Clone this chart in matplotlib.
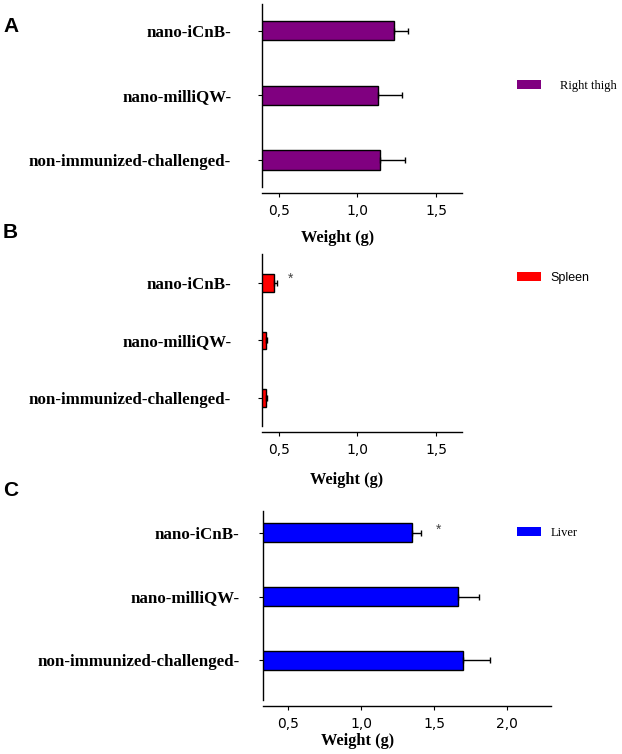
import matplotlib.pyplot as plt
from matplotlib.patches import Patch
from matplotlib.ticker import FuncFormatter

# data
groups = ['nano-iCnB-', 'nano-milliQW-', 'non-immunized-challenged-']
thigh = [1.234, 1.129, 1.141]
thigh_err = [0.090, 0.153, 0.164]
spleen = [0.466, 0.417, 0.417]
spleen_err = [0.020, 0.006, 0.006]
liver = [1.349, 1.662, 1.699]
liver_err = [0.062, 0.146, 0.183]

W, H = 622, 754
serif = 'Liberation Serif'
sans = 'Liberation Sans'


def rect(x0, x1, ytop, ybot):
    return [x0 / W, 1 - ybot / H, (x1 - x0) / W, (ybot - ytop) / H]


def comma(v, pos):
    return ('%.1f' % v).replace('.', ',')


def panel(fig, box, vals, errs, color, xlim, ylim, ticks, label, lab_font,
          leg_xy, gap, pad, wxy, star=None):
    ax = fig.add_axes(box)
    y = range(len(groups))
    ax.barh(y, vals, height=0.3, color=color, edgecolor='black', linewidth=1.0)
    ax.errorbar(vals, y, xerr=[[0] * len(errs), errs], fmt='none',
                ecolor='black', elinewidth=1.0, capsize=2.5, capthick=1.0)
    ax.set_xlim(*xlim)
    ax.set_ylim(*ylim)
    ax.set_yticks(list(y))
    ax.set_yticklabels(groups, fontfamily=serif, fontweight='bold', fontsize=12.2)
    ax.set_xticks(ticks)
    ax.xaxis.set_major_formatter(FuncFormatter(comma))
    for t in ax.get_xticklabels():
        t.set_fontfamily(sans)
        t.set_fontsize(7.5)
        t.set_color('#333333')
    ax.tick_params(axis='y', length=3, width=0.8, pad=pad)
    ax.tick_params(axis='x', length=3, width=0.8, pad=5)
    for s in ['top', 'right']:
        ax.spines[s].set_visible(False)
    ax.spines['bottom'].set_position(('outward', 4))
    ax.spines['left'].set_linewidth(1.0)
    ax.spines['bottom'].set_linewidth(1.0)
    if star is not None:
        ax.text(star[0], star[1], '*', fontsize=10, color='#444444',
                fontfamily=sans, ha='center', va='center')
    fig.text(wxy[0] / W, 1 - wxy[1] / H, 'Weight (g)', fontfamily=serif,
             fontweight='bold', fontsize=11.8, ha='center', va='center')
    handle = Patch(facecolor=color, edgecolor='none')
    fig.legend([handle], [label], loc='center left',
               bbox_to_anchor=(leg_xy[0] / W, 1 - leg_xy[1] / H),
               frameon=False, prop={'family': lab_font, 'size': 9},
               handlelength=1.9, handleheight=0.7, handletextpad=gap,
               borderpad=0, borderaxespad=0)
    return ax


fig = plt.figure(figsize=(W / 100, H / 100), dpi=100)

panel(fig, rect(261.7, 462, 4, 187), thigh, thigh_err, '#800080',
      (0.39, 1.666), (2.418, -0.415), [0.5, 1.0, 1.5], 'Right thigh', serif,
      (517, 86), 1.5, 19, (338, 238))
panel(fig, rect(261.7, 462, 254, 426), spleen, spleen_err, '#FF0000',
      (0.39, 1.666), (2.487, -0.504), [0.5, 1.0, 1.5], 'Spleen', sans,
      (517, 278), 0.8, 19, (347, 480), star=(0.576, -0.07))
panel(fig, rect(263.3, 551, 510.7, 700), liver, liver_err, '#0000FF',
      (0.329, 2.30), (2.62, -0.345), [0.5, 1.0, 1.5, 2.0], 'Liver', serif,
      (517, 533), 0.8, 14, (358, 741), star=(1.53, -0.05))

for letter, yy in [('A', 27), ('B', 233), ('C', 490)]:
    fig.text(3 / W, 1 - yy / H, letter, fontfamily=sans, fontweight='bold',
             fontsize=15, ha='left', va='center')

fig.savefig('out.png', dpi=100)
